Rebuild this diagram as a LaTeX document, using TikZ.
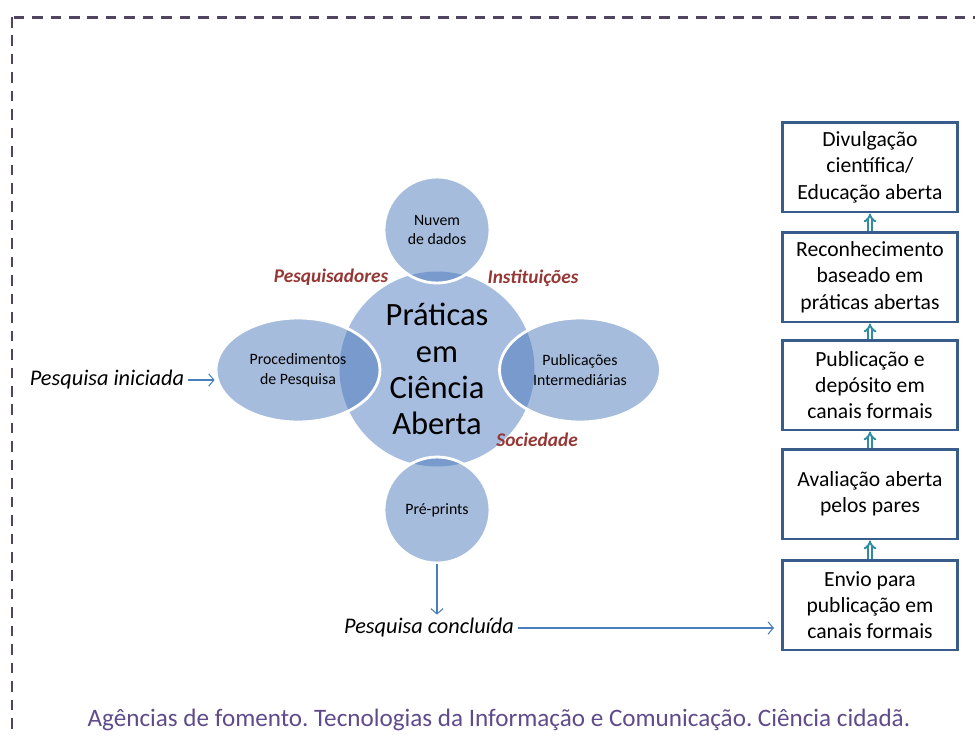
\documentclass[tikz,border=0pt]{standalone}
\usepackage{fontspec}
\setmainfont{Carlito}
\usetikzlibrary{shapes.geometric,arrows.meta}
\frenchspacing

\definecolor{vennblue}{HTML}{A6BDDF}
\definecolor{satblue}{HTML}{4B79BB}
\definecolor{labelred}{HTML}{953735}
\definecolor{flowblue}{HTML}{4A7EBB}
\definecolor{boxblue}{HTML}{385D8A}
\definecolor{stepteal}{HTML}{2E8EA0}
\definecolor{framegray}{HTML}{4F4560}
\definecolor{footpurple}{HTML}{5F4B8B}

\begin{document}
\begin{tikzpicture}[x=0.02cm, y=-0.02cm,
    hub/.style={circle, fill=vennblue, minimum size=3.9cm, inner sep=0pt, align=center,
        font=\fontsize{18.5}{20.6}\selectfont},
    sat/.style={fill=satblue, fill opacity=0.5, text opacity=1, draw=white, draw opacity=1,
        line width=1.6pt, inner sep=0pt, align=center, font=\fontsize{9}{11.3}\selectfont},
    actor/.style={text=labelred, font=\fontsize{11}{12}\selectfont\bfseries\itshape},
    stage/.style={draw=boxblue, line width=1.7pt, fill=white, minimum width=3.5cm,
        minimum height=1.8cm, align=center, font=\fontsize{12.3}{15}\selectfont},
    note/.style={font=\fontsize{12.7}{15}\selectfont\itshape, inner sep=2pt},
    flow/.style={flowblue, line width=0.6pt, -{Straight Barb[length=3pt,width=7pt]}},
    stepup/.style={stepteal, double=white, double distance=1.2pt, line width=1.1pt,
        -{Implies}}]

    \path[use as bounding box, clip] (0,0) rectangle (975,735);
    \draw[framegray, line width=1.7pt, dash pattern=on 6pt off 4.5pt] (12,17) rectangle (1000,760);

    % venn of practices
    \node[hub] (core) at (437,369) {Práticas\\em\\Ciência\\Aberta};
    \node[sat, circle, minimum size=2.12cm] (nuvem) at (437,230) {Nuvem\\de dados};
    \node[sat, circle, minimum size=2.12cm] (pre) at (437,510) {Pré-prints};
    \node[sat, ellipse, minimum width=3.28cm, minimum height=2.08cm] (proc) at (298,370) {Procedimentos\\de Pesquisa};
    \node[sat, ellipse, minimum width=3.22cm, minimum height=2.08cm] (inter) at (580,370) {Publicações\\Intermediárias};

    \node[actor] (pesq) at (331,277) {Pesquisadores};
    \node[actor] (inst) at (533,278) {Instituições};
    \node[actor] (soc) at (537,440) {Sociedade};

    \node[note] (inic) at (107,380) {Pesquisa iniciada};
    \node[note] (concl) at (429,628) {Pesquisa concluída};
    \draw[flow] (inic.east) -- (inic.east -| proc.west);
    \draw[flow] (pre) -- (pre |- concl.north);

    % publication steps
    \node[stage] (divulg) at (870,167) {Divulgação\\científica/\\Educação aberta};
    \node[stage] (recon) at (870,277) {Reconhecimento\\baseado em\\práticas abertas};
    \node[stage] (publ) at (870,385) {Publicação e\\depósito em\\canais formais};
    \node[stage] (aval) at (870,494) {Avaliação aberta\\pelos pares};
    \node[stage] (envio) at (870,605) {Envio para\\publicação em\\canais formais};

    \draw[flow, shorten >=4pt] (concl.east) -- (concl.east -| envio.west);
    \draw[stepup] (envio) -- (aval);
    \draw[stepup] (aval) -- (publ);
    \draw[stepup] (publ) -- (recon);
    \draw[stepup] (recon) -- (divulg);

    \node[text=footpurple, font=\fontsize{14.3}{16}\selectfont] (foot) at (499,720)
        {Agências de fomento. Tecnologias da Informação e Comunicação. Ciência cidadã.};
\end{tikzpicture}
\end{document}
